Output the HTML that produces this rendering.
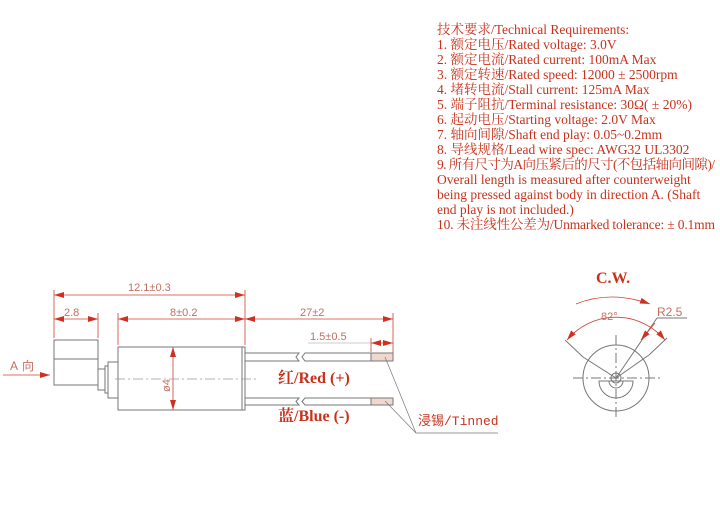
<!DOCTYPE html>
<html><head><meta charset="utf-8"><style>
html,body{margin:0;padding:0;background:#fff;}
svg{display:block;}
.t{font-family:"Liberation Serif","Noto Serif CJK SC","Noto Sans CJK SC",serif;font-size:13.5px;fill:#c8321c;}
.d{font-family:"Liberation Sans",sans-serif;font-size:11px;fill:#c07060;}
.l{stroke:#777;stroke-width:1;fill:none;}
.r{stroke:#d04030;stroke-width:0.8;fill:none;}
</style></head><body>
<svg width="720" height="506" viewBox="0 0 720 506" xmlns="http://www.w3.org/2000/svg">
<defs>
<marker id="a" viewBox="0 0 10 6" refX="10" refY="3" markerWidth="10" markerHeight="6" orient="auto-start-reverse" markerUnits="userSpaceOnUse"><path d="M0,0 L10,3 L0,6 z" fill="#d03020"/></marker>
</defs>
<g class="t">
<text x="437" y="34">技术要求/Technical Requirements:</text>
<text x="437" y="49">1. 额定电压/Rated voltage: 3.0V</text>
<text x="437" y="64">2. 额定电流/Rated current: 100mA Max</text>
<text x="437" y="79">3. 额定转速/Rated speed: 12000 ± 2500rpm</text>
<text x="437" y="94">4. 堵转电流/Stall current: 125mA Max</text>
<text x="437" y="109">5. 端子阻抗/Terminal resistance: 30Ω( ± 20%)</text>
<text x="437" y="124">6. 起动电压/Starting voltage: 2.0V  Max</text>
<text x="437" y="139">7. 轴向间隙/Shaft end play: 0.05~0.2mm</text>
<text x="437" y="154">8. 导线规格/Lead wire spec: AWG32 UL3302</text>
<text x="437" y="169" textLength="278">9. 所有尺寸为A向压紧后的尺寸(不包括轴向间隙)/</text>
<text x="437" y="184">Overall length is measured after counterweight</text>
<text x="437" y="199">being pressed against body in direction A. (Shaft</text>
<text x="437" y="214">end play is not included.)</text>
<text x="437" y="229" textLength="278">10. 未注线性公差为/Unmarked tolerance:  ± 0.1mm</text>
</g>
<g class="r" stroke-width="0.6">
<line x1="54" y1="290" x2="54" y2="338"/>
<line x1="245" y1="290" x2="245" y2="345"/>
<line x1="98" y1="313" x2="98" y2="338"/>
<line x1="118" y1="313" x2="118" y2="345"/>
<line x1="393" y1="313" x2="393" y2="354"/>
<line x1="371" y1="338" x2="371" y2="352"/>
</g>
<g class="r">
<line x1="54" y1="295" x2="245" y2="295" marker-start="url(#a)" marker-end="url(#a)"/>
<line x1="54" y1="319" x2="98" y2="319" marker-start="url(#a)" marker-end="url(#a)"/>
<line x1="118" y1="319" x2="245" y2="319" marker-start="url(#a)" marker-end="url(#a)"/>
<line x1="245" y1="319" x2="393" y2="319" marker-start="url(#a)" marker-end="url(#a)"/>
<line x1="371" y1="343" x2="393" y2="343" marker-start="url(#a)" marker-end="url(#a)"/>
<line x1="3" y1="375" x2="50" y2="375" marker-end="url(#a)"/>
<line x1="173" y1="347" x2="173" y2="410" marker-start="url(#a)" marker-end="url(#a)"/>
</g>
<line x1="308" y1="343" x2="371" y2="343" stroke="#999" stroke-width="0.6"/>
<g class="d">
<text x="128" y="291">12.1±0.3</text>
<text x="64" y="316">2.8</text>
<text x="170" y="316">8±0.2</text>
<text x="300" y="316">27±2</text>
<text x="310" y="340">1.5±0.5</text>
<text x="10" y="370" font-size="12">A</text>
<text x="22" y="370" font-size="12" font-family="Noto Sans CJK SC,sans-serif">向</text>
<text x="0" y="0" transform="translate(170,392) rotate(-90)">ø4</text>
</g>
<g class="l">
<rect x="54" y="340" width="44" height="45"/>
<line x1="54" y1="359" x2="98" y2="359"/>
<rect x="98" y="369" width="7" height="21"/>
<rect x="105" y="366" width="3" height="27"/>
<rect x="108" y="362" width="10" height="36"/>
<rect x="118" y="347" width="127" height="63"/>
<line x1="242" y1="347" x2="242" y2="410"/>
<path d="M245,353 H299 l-3,4 l3,4 H245"/>
<path d="M305,353 H371 V361 H305 l-3,-4 z"/>
<path d="M245,398 H299 l-3,3.5 l3,3.5 H245"/>
<path d="M305,398 H371 V405 H305 l-3,-3.5 z"/>
<rect x="371" y="353" width="22" height="8" fill="#f0d8d0"/>
<rect x="371" y="398" width="22" height="7" fill="#f0d8d0"/>
<line x1="385" y1="357" x2="416" y2="433" stroke-width="0.7"/>
<line x1="385" y1="401" x2="416" y2="433" stroke-width="0.7"/>
<line x1="416" y1="433" x2="498" y2="433" stroke-width="0.7"/>
</g>
<line x1="115" y1="379" x2="258" y2="379" stroke="#999" stroke-width="0.7" stroke-dasharray="10,3,2,3"/>
<text x="278" y="383" class="t" style="font-size:16px;font-weight:bold">红/Red (+)</text>
<text x="278" y="421" class="t" style="font-size:16px;font-weight:bold">蓝/Blue  (-)</text>
<text x="418" y="425" class="t" style="font-size:13px;font-family:'Liberation Mono','Noto Sans CJK SC',monospace">浸锡/Tinned</text>
<text x="596" y="283" class="t" style="font-size:16px;font-weight:bold">C.W.</text>
<path d="M576,304 Q610,290 650,304" class="r" marker-end="url(#a)"/>
<g class="l" stroke-width="0.8">
<circle cx="616" cy="378" r="33"/>
<path d="M599,381 A17,17 0 0 0 633,381 Z"/>
<path d="M609,381 A7,7 0 0 0 623,381"/>
<circle cx="616" cy="378" r="5"/>
<line x1="573" y1="378" x2="660" y2="378" stroke-dasharray="10,3,2,3"/>
<line x1="616" y1="335" x2="616" y2="420" stroke-dasharray="10,3,2,3"/>
<path d="M583,357 L616,378 L649,355"/>
<line x1="565" y1="340" x2="583" y2="357"/>
<line x1="667" y1="338" x2="649" y2="355"/>
<line x1="616" y1="378" x2="657" y2="318"/>
<line x1="657" y1="318" x2="687" y2="318"/>
</g>
<path d="M567,340 A64,64 0 0 1 665,340" class="r" marker-start="url(#a)" marker-end="url(#a)"/>
<path d="M655,323 L641,340" class="r" marker-end="url(#a)"/>
<g class="d">
<text x="601" y="320">82°</text>
<text x="657" y="316" font-size="12">R2.5</text>
</g>
</svg>
</body></html>
